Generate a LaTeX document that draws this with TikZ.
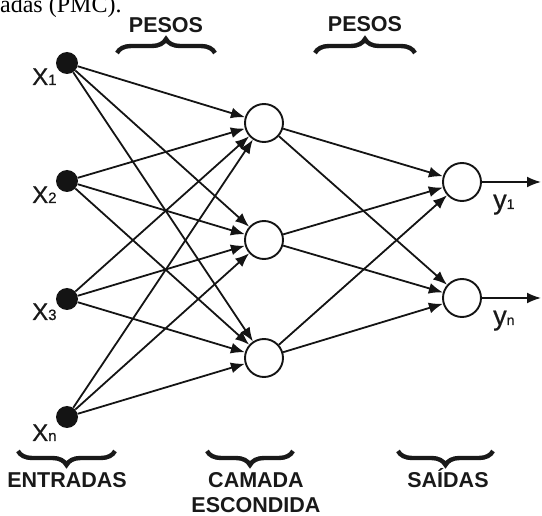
\documentclass[tikz,border=0pt]{standalone}
\usepackage{fontspec}
\setmainfont{Liberation Sans}
\newfontfamily\captionserif{Liberation Serif}
\newfontfamily\varfont[FakeBold=0.6]{Liberation Sans}
\usetikzlibrary{arrows.meta,decorations.pathreplacing}

\begin{document}
\begin{tikzpicture}[x=1pt,y=1pt,
  inputdot/.style={circle,fill=black!92,minimum size=22pt,inner sep=0pt},
  neuron/.style={circle,draw=black!92,line width=1.9pt,fill=white,minimum size=38pt,inner sep=0pt},
  link/.style={line width=1.8pt,draw=black!92,-{Latex[length=14pt,width=11pt]}},
  groupbrace/.style={decorate,decoration={brace,amplitude=14pt},line width=4.4pt,color=black!90},
  grouplabel/.style={font=\fontsize{21.5}{24}\selectfont\bfseries,text=black!90,inner sep=0pt,anchor=base},
  varlabel/.style={inner sep=0pt,anchor=base west,text=black!90,font=\varfont}
]
\useasboundingbox (0,0) rectangle (542,-516);

% tail of the caption line above the figure
\begin{scope}
  \clip (0,0) rectangle (542,-516);
  \node[inner sep=0pt,anchor=base west,font=\captionserif\fontsize{24}{26}\selectfont] (caption) at (-40,-13) {camadas (PMC).};
\end{scope}

% input layer
\node[inputdot] (x1) at (67,-63) {};
\node[inputdot] (x2) at (67,-181) {};
\node[inputdot] (x3) at (67,-299) {};
\node[inputdot] (xn) at (67,-417) {};

% hidden layer
\node[neuron] (h1) at (264,-123) {};
\node[neuron] (h2) at (264,-240) {};
\node[neuron] (h3) at (264,-358) {};

% output layer
\node[neuron] (o1) at (462,-182) {};
\node[neuron] (o2) at (462,-298) {};

\coordinate (e1) at (541,-182);
\coordinate (e2) at (541,-298);

% connections
\foreach \i in {x1,x2,x3,xn}
  \foreach \h in {h1,h2,h3}
    \draw[link] (\i) -- (\h);
\foreach \h in {h1,h2,h3}
  \foreach \o in {o1,o2}
    \draw[link] (\h) -- (\o);
\draw[link] (o1) -- (e1);
\draw[link] (o2) -- (e2);

% variable labels
\node[varlabel] (lx1) at (32,-85) {\fontsize{24}{26}\selectfont X\fontsize{15}{17}\selectfont 1};
\node[varlabel] (lx2) at (32,-203) {\fontsize{24}{26}\selectfont X\fontsize{15}{17}\selectfont 2};
\node[varlabel] (lx3) at (32,-320) {\fontsize{24}{26}\selectfont X\fontsize{15}{17}\selectfont 3};
\node[varlabel] (lxn) at (32,-441) {\fontsize{24}{26}\selectfont X\fontsize{15}{17}\selectfont n};
\node[varlabel] (ly1) at (493,-209) {\fontsize{27}{30}\selectfont y\fontsize{14}{16}\selectfont 1};
\node[varlabel] (lyn) at (493,-325) {\fontsize{27}{30}\selectfont y\fontsize{14}{16}\selectfont n};

% weight braces
\draw[groupbrace] (117,-53) -- (215,-53);
\draw[groupbrace] (315,-53) -- (415,-53);
\node[grouplabel] (w1) at (166,-33) {PESOS};
\node[grouplabel] (w2) at (365,-32) {PESOS};

% layer braces
\draw[groupbrace] (115,-451) -- (18,-451);
\draw[groupbrace] (293,-451) -- (207,-451);
\draw[groupbrace] (493,-451) -- (398,-451);
\node[grouplabel] (lin) at (67,-488) {ENTRADAS};
\node[grouplabel] (lhid1) at (256,-488) {CAMADA};
\node[grouplabel] (lhid2) at (256,-512) {ESCONDIDA};
\node[grouplabel] (lout) at (448,-488) {SAÍDAS};
\end{tikzpicture}
\end{document}
